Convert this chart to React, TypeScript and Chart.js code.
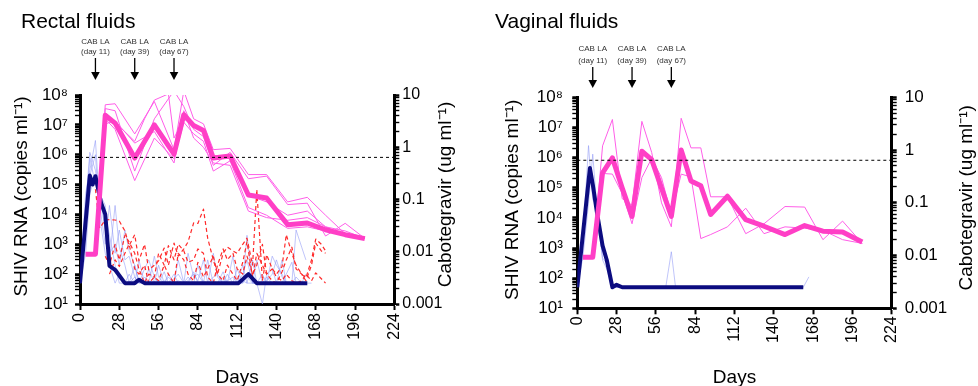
import React, { useEffect, useRef } from "react";
import { Chart, registerables } from "chart.js";

Chart.register(...registerables);

const FONT = '"Liberation Sans", Arial, Helvetica, sans-serif';

// ---------------- text / ticks ----------------
const xTickValues = [0, 28, 56, 84, 112, 140, 168, 196, 224];
const vlDecadeLabels = ["10¹", "10²", "10³", "10⁴", "10⁵", "10⁶", "10⁷", "10⁸"]; // exponents 1..8
const cabDecadeLabels = ["0.001", "0.01", "0.1", "1", "10"]; // exponents -3..1
const doseDays = [11, 39, 67];
const doseLine1 = "CAB LA";
const doseLine2 = ["(day 11)", "(day 39)", "(day 67)"];
const thresholdDays = [0, 224];
const thresholdValues = [0.64, 0.64];
const panelTitles = ["Rectal fluids", "Vaginal fluids"];
const vlAxisTitle = "SHIV RNA (copies ml⁻¹)";
const cabAxisTitle = "Cabotegravir (ug ml⁻¹)";
const xAxisTitle = "Days";

// ---------------- Rectal fluids ----------------
const rectalCabDays = [4, 11, 18, 25, 39, 46, 53, 63, 67, 74, 81, 88, 95, 107, 120, 133, 148, 162, 175, 189, 203];
const rectalCabMean = [0.009, 0.009, 4.1, 2.9, 0.62, null, 2.67, null, 0.74, 4.2, 2.6, 2.1, 0.62, 0.68, 0.122, 0.107, 0.033, 0.0355, 0.0264, 0.0212, 0.0178];
const rectalCabA = [null, 0.009, 6.5, 6.8, 1.8, null, 7.5, null, 0.9, 12, 3.5, 2.8, 0.9, 0.95, 0.3, 0.3, 0.09, 0.11, 0.05, 0.022, 0.018];
const rectalCabB = [null, 0.009, 5.5, 5.0, 0.35, null, 3.5, null, 12, 6, 2.2, 1.6, 0.45, 0.8, 0.25, 0.28, 0.08, 0.085, 0.02, 0.035, 0.018];
const rectalCabC = [null, 0.009, 3.5, 2.2, 0.23, null, 1.5, null, 0.6, 3.0, 1.8, 1.3, 0.35, 0.55, 0.07, 0.05, 0.028, 0.03, 0.025, 0.022, 0.018];
const rectalCabD = [null, 0.009, 2.8, 3.2, 1.2, null, 2.0, null, 0.5, 5, 1.5, 1.0, 0.5, 0.45, 0.06, 0.045, 0.04, 0.045, 0.03, 0.02, 0.018];
const rectalCabE = [null, 0.009, 4.5, 3.0, 1.3, 3.5, 8, 10.5, 1.5, 3.5, 2.5, 2.0, 0.7, 0.6, 0.12, 0.09, 0.05, 0.06, 0.03, 0.025, 0.018];

const rectalVlMeanDays = [0, 7, 9, 11, 15, 18, 21, 25, 32, 39, 42, 46, 113, 120, 126, 162];
const rectalVlMean = [50, 2e5, 1e5, 1.9e5, 2.5e4, 1e4, 190, 140, 50, 50, 65, 50, 50, 100, 50, 50];

const rectalVlDays = [0, 4, 7, 11, 14, 18, 21, 25, 28, 32, 35, 39, 42, 46, 49, 53, 56, 60, 63, 67, 70, 74, 77, 81, 84, 88, 91, 95, 98, 102, 105, 109, 112, 116, 119, 123, 126, 130, 133, 137, 140, 144, 147, 151, 154, 158, 161, 165];
const rectalVlA = [50, 2e4, 1.2e6, 3e5, 4e4, 3e3, 300, 2e4, 800, 200, 50, 80, 50, 50, 150, 50, 50, 50, 80, 50, 50, 50, 50, 120, 50, 50, 300, 50, 50, 80, 50, 50, 50, 50, 2e3, 50, 50, 50, 80, 50, 50, 300, 50, 50, 80, 50, 50, null];
const rectalVlB = [50, 5e4, 3e5, 3e6, 2e4, 1e3, 2e4, 500, 3e3, 300, 400, 80, 50, 150, 300, 80, 50, 60, 50, 100, 50, 50, 500, 80, 100, 50, 50, 60, 50, 120, 50, 400, 50, 60, 50, 300, 50, 10, 100, 150, 50, 50, 100, 250, 50, 50, 50, null];
const rectalVlC = [50, 1e4, 8e5, 1e5, 5e4, 2e4, 500, 1e3, 200, 3e3, 600, 200, 50, 80, 50, 80, 50, 120, 50, 70, 100, 50, 60, 100, 60, 300, 50, 80, 100, 50, 60, 80, 50, 100, 300, 50, 50, 100, 50, 400, 200, 100, 50, 50, 3e3, 800, 300, null];
const rectalVlD = [50, 3e3, 2e5, 1e6, 8e3, 500, 200, 50, 100, 50, 50, 200, 60, 50, 50, 400, 80, 50, 100, 50, 60, 50, 80, 50, 50, 60, 50, 500, 80, 50, 100, 50, 150, 50, 80, 50, 50, 50, 60, 100, 300, 80, 50, 50, 50, 50, 50, 50];
const rectalVlE = [50, 500, 5e4, 2e5, 3e4, 1e4, 2e3, 200, 50, 50, 100, 50, 300, 50, 50, 50, 200, 50, 50, 50, 300, 50, 50, 50, 200, 50, 50, 50, 50, 60, 50, 50, 50, 200, 50, 50, 300, 50, 50, 50, 50, 50, 50, 50, 50, 50, 100, null];

const rectalRedDays = [11, 14, 18, 21, 25, 28, 32, 35, 39, 42, 46, 49, 53, 56, 60, 63, 67, 70, 74, 77, 81, 84, 88, 91, 95, 98, 102, 105, 109, 112, 116, 119, 123, 126, 130, 133, 137, 140, 144, 147, 151, 154, 158, 161, 165, 168, 172, 175];
const rectalRedA = [7e4, 3.5e3, 6.5e3, 6.7e3, 6.5e3, 6e3, 2.8e3, 900, 2.1e3, 280, 1e3, 140, 200, 280, 750, 200, 1.1e3, 400, 700, 1.2e3, 5.2e3, 5e3, 1.5e4, 1.6e3, 300, 100, 500, 800, 600, 500, 1e3, 1.6e3, 200, 6.8e4, 60, 450, 150, 100, 180, 2.1e3, 500, 200, 100, 75, 300, 1.5e3, 1e3, 600];
const rectalRedB = [null, null, 400, 200, 1e3, 300, 2e3, 1.2e3, 500, 150, 50, 100, 80, 500, 200, 900, 300, 1e3, 600, 250, 300, 700, 500, 80, 50, 200, 700, 300, 500, 150, 100, 400, 100, 200, 1e3, 100, 60, 50, 120, 300, 800, 150, 100, 60, 200, 1.1e3, 600, 500];
const rectalRedC = [null, null, null, 100, 300, 180, 500, 1e3, 150, 100, 200, 50, 80, 60, 200, 100, 50, 500, 300, 100, 60, 250, 80, 150, 400, 100, 60, 200, 100, 60, 250, 1.2e3, 80, 500, 200, 100, 150, 80, 60, 100, 60, 50, 60, 100, 60, 110, 70, 50];

// ---------------- Vaginal fluids ----------------
const vagCabDays = [4, 11, 18, 25, 32, 39, 46, 53, 60, 67, 74, 81, 88, 95, 107, 120, 133, 148, 162, 175, 189, 203];
const vagCabMean = [0.0093, 0.0093, 0.37, 0.71, 0.19, 0.055, 0.95, 0.66, 0.19, 0.055, 1.0, 0.26, 0.21, 0.06, 0.133, 0.048, 0.036, 0.025, 0.037, 0.029, 0.028, 0.018];
const vagCabA = [null, 0.0093, 1.2, 3.8, 0.12, 0.09, 3.5, 0.9, 0.1, 0.035, 4.0, 1.1, 1.1, 0.13, 0.13, 0.026, 0.04, 0.085, 0.083, 0.02, 0.045, 0.017];
const vagCabB = [null, 0.0093, 0.36, 0.35, 0.15, 0.04, 0.3, 0.7, 0.3, 0.06, 0.35, 0.31, 0.021, 0.025, 0.035, 0.079, 0.026, 0.035, 0.033, 0.03, 0.02, 0.017];

const vagVlMeanDays = [0, 9, 11, 14, 18, 21, 25, 28, 32, 161];
const vagVlMean = [50, 4.5e5, 1.3e5, 1.5e4, 1.2e3, 400, 50, 60, 50, 50];

const vagVlDays = [0, 4, 8, 11, 14, 18, 21, 25, 28, 32, 46, 63, 67, 70, 95, 130, 161, 165];
const vagVlA = [50, 2e3, 2.5e6, 4e4, 2.5e4, 470, 300, 50, 50, 50, 50, 50, 750, 50, 50, 50, 50, 110];
const vagVlB = [50, 500, 3e4, 1.3e6, 2e4, 400, 200, 50, 50, 50, 50, 50, 50, 50, 50, 50, 50, null];

// ---------------- styling ----------------
const PINK_THICK = "#ff3fc6";
const PINK_THIN = "#ff5ee8";
const NAVY = "#0c0c80";
const BLUE_THIN = "rgba(140,150,245,0.55)";
const RED = "#ff2a2a";

const CANVAS_W = 489;
const CANVAS_H = 386;

const panels = [
  {
    title: panelTitles[0],
    offsetX: 0,
    geom: {
      left: 80, right: 394.3, top: 95, bottom: 304,
      yPad: 7, y2Pad: 3, xPad: 3, y2Font: 16,
      titleX: 21, titleY: 28,
      annY1: 41.5, annY2: 51.5, arrowTop: 58, arrowTip: 80,
      vlTitleX: 22, cabTitleX: 446, daysY: 378,
    },
    cabDays: rectalCabDays, cabMean: rectalCabMean,
    cabInd: [rectalCabA, rectalCabB, rectalCabC, rectalCabD, rectalCabE],
    vlMeanDays: rectalVlMeanDays, vlMean: rectalVlMean,
    vlDays: rectalVlDays, vlInd: [rectalVlA, rectalVlB, rectalVlC, rectalVlD, rectalVlE],
    redDays: rectalRedDays, redInd: [rectalRedA, rectalRedB, rectalRedC],
  },
  {
    title: panelTitles[1],
    offsetX: 489,
    geom: {
      left: 88.3, right: 402.7, top: 97.3, bottom: 308.3,
      yPad: 9.5, y2Pad: 8, xPad: 2, y2Font: 17,
      titleX: 6, titleY: 27.5,
      annY1: 49, annY2: 60.5, arrowTop: 67, arrowTip: 88,
      vlTitleX: 23.7, cabTitleX: 477.7, daysY: 378,
    },
    cabDays: vagCabDays, cabMean: vagCabMean,
    cabInd: [vagCabA, vagCabB],
    vlMeanDays: vagVlMeanDays, vlMean: vagVlMean,
    vlDays: vagVlDays, vlInd: [vagVlA, vagVlB],
    redDays: [], redInd: [],
  },
];

function zip(days: number[], values: (number | null)[]) {
  const out: { x: number; y: number }[] = [];
  for (let i = 0; i < days.length; i++) {
    const v = values[i];
    if (v !== null && v !== undefined) out.push({ x: days[i], y: v });
  }
  return out;
}

function logTicks(e0: number, e1: number) {
  const t: { value: number }[] = [];
  for (let e = e0; e < e1; e++) {
    for (let k = 1; k <= 9; k++) t.push({ value: Number((k * Math.pow(10, e)).toPrecision(8)) });
  }
  t.push({ value: Number(Math.pow(10, e1).toPrecision(8)) });
  return t;
}

function decadeExp(v: number): number | null {
  const e = Math.log10(v);
  const r = Math.round(e);
  return Math.abs(e - r) < 1e-7 ? r : null;
}

function lineDs(days: number[], values: (number | null)[], axis: string, style: any) {
  return {
    data: zip(days, values),
    yAxisID: axis,
    pointRadius: 0,
    tension: 0,
    fill: false,
    borderJoinStyle: "round",
    ...style,
  };
}

function buildConfig(p: any) {
  const g = p.geom;
  const datasets: any[] = [
    lineDs(thresholdDays, thresholdValues, "y2", { borderColor: "#000", borderWidth: 1, borderDash: [3, 3] }),
    lineDs(p.cabDays, p.cabMean, "y2", { borderColor: PINK_THICK, borderWidth: 5 }),
    lineDs(p.vlMeanDays, p.vlMean, "y", { borderColor: NAVY, borderWidth: 4 }),
    ...p.cabInd.map((v: any) => lineDs(p.cabDays, v, "y2", { borderColor: PINK_THIN, borderWidth: 1 })),
    ...p.redInd.map((v: any) => lineDs(p.redDays, v, "y", { borderColor: RED, borderWidth: 1.2, borderDash: [4, 3] })),
    ...p.vlInd.map((v: any) => lineDs(p.vlDays, v, "y", { borderColor: BLUE_THIN, borderWidth: 1 })),
  ];

  const decor = {
    id: "decor",
    afterDraw(chart: any) {
      const { ctx, chartArea, scales } = chart;
      ctx.save();
      ctx.fillStyle = "#000";
      ctx.font = `21px ${FONT}`;
      ctx.textAlign = "left";
      ctx.textBaseline = "alphabetic";
      ctx.fillText(p.title, g.titleX, g.titleY);

      doseDays.forEach((d, i) => {
        const x = scales.x.getPixelForValue(d);
        ctx.fillStyle = "#333";
        ctx.font = `8px ${FONT}`;
        ctx.textAlign = "center";
        ctx.textBaseline = "middle";
        ctx.fillText(doseLine1, x, g.annY1);
        ctx.fillText(doseLine2[i], x, g.annY2);
        ctx.strokeStyle = "#000";
        ctx.fillStyle = "#000";
        ctx.lineWidth = 1.3;
        ctx.beginPath();
        ctx.moveTo(x, g.arrowTop);
        ctx.lineTo(x, g.arrowTip - 6);
        ctx.stroke();
        ctx.beginPath();
        ctx.moveTo(x - 4.3, g.arrowTip - 8);
        ctx.lineTo(x + 4.3, g.arrowTip - 8);
        ctx.lineTo(x, g.arrowTip);
        ctx.closePath();
        ctx.fill();
      });

      const cy = (chartArea.top + chartArea.bottom) / 2;
      ctx.fillStyle = "#000";
      ctx.font = `19px ${FONT}`;
      ctx.textAlign = "center";
      ctx.textBaseline = "middle";
      ctx.save();
      ctx.translate(g.vlTitleX, cy - 3);
      ctx.rotate(-Math.PI / 2);
      ctx.fillText(vlAxisTitle, 0, 0);
      ctx.restore();
      ctx.save();
      ctx.translate(g.cabTitleX, cy - 5);
      ctx.rotate(-Math.PI / 2);
      ctx.fillText(cabAxisTitle, 0, 0);
      ctx.restore();
      ctx.fillText(xAxisTitle, (chartArea.left + chartArea.right) / 2, g.daysY);
      ctx.restore();
    },
  };

  const tickGrid = (len: number, wMajor: number, wMinor: number) => ({
    display: true,
    drawOnChartArea: false,
    drawTicks: true,
    tickLength: len,
    tickColor: "#000",
    tickWidth: (ctx: any) => (ctx.tick && decadeExp(ctx.tick.value) !== null ? wMajor : wMinor),
  });

  return {
    type: "line",
    data: { datasets },
    options: {
      responsive: false,
      animation: false,
      devicePixelRatio: 1,
      layout: { padding: { top: g.top, left: 0, right: 0, bottom: 0 } },
      plugins: { legend: { display: false }, tooltip: { enabled: false }, title: { display: false } },
      elements: { point: { radius: 0 }, line: { tension: 0 } },
      scales: {
        x: {
          type: "linear",
          min: 0,
          max: 224,
          afterBuildTicks: (s: any) => {
            s.ticks = xTickValues.map((v) => ({ value: v }));
          },
          afterFit: (s: any) => {
            s.height = CANVAS_H - g.bottom;
          },
          ticks: {
            font: { size: 16, family: FONT },
            color: "#000",
            minRotation: 90,
            maxRotation: 90,
            padding: g.xPad,
            autoSkip: false,
            callback: (v: any) => String(v),
          },
          grid: { display: true, drawOnChartArea: false, drawTicks: true, tickLength: 6, tickWidth: 2, tickColor: "#000" },
          border: { display: true, color: "#000", width: 3 },
        },
        y: {
          type: "logarithmic",
          position: "left",
          min: 10,
          max: 1e8,
          afterBuildTicks: (s: any) => {
            s.ticks = logTicks(1, 8);
          },
          afterFit: (s: any) => {
            s.width = g.left;
          },
          ticks: {
            font: { size: 17, family: FONT },
            color: "#000",
            padding: g.yPad,
            autoSkip: false,
            callback: (v: any) => {
              const e = decadeExp(v);
              return e === null ? "" : vlDecadeLabels[e - 1];
            },
          },
          grid: tickGrid(5, 2.5, 1.4),
          border: { display: true, color: "#000", width: 3 },
        },
        y2: {
          type: "logarithmic",
          position: "right",
          min: 0.001,
          max: 10,
          afterBuildTicks: (s: any) => {
            s.ticks = logTicks(-3, 1);
          },
          afterFit: (s: any) => {
            s.width = CANVAS_W - g.right;
          },
          ticks: {
            font: { size: g.y2Font, family: FONT },
            color: "#000",
            padding: g.y2Pad,
            autoSkip: false,
            callback: (v: any) => {
              const e = decadeExp(v);
              return e === null ? "" : cabDecadeLabels[e + 3];
            },
          },
          grid: tickGrid(5, 2.5, 1.4),
          border: { display: true, color: "#000", width: 3 },
        },
      },
    },
    plugins: [decor],
  };
}

function Panel({ p }: { p: any }) {
  const ref = useRef<HTMLCanvasElement | null>(null);
  useEffect(() => {
    if (!ref.current) return;
    const chart = new Chart(ref.current, buildConfig(p) as any);
    return () => chart.destroy();
  }, [p]);
  return (
    <canvas
      ref={ref}
      width={CANVAS_W}
      height={CANVAS_H}
      style={{ position: "absolute", left: p.offsetX, top: 0, width: CANVAS_W, height: CANVAS_H }}
    />
  );
}

export default function App() {
  return (
    <div style={{ position: "fixed", left: 0, top: 0, width: 978, height: 386, background: "#fff", overflow: "hidden" }}>
      {panels.map((p, i) => (
        <Panel key={i} p={p} />
      ))}
    </div>
  );
}
